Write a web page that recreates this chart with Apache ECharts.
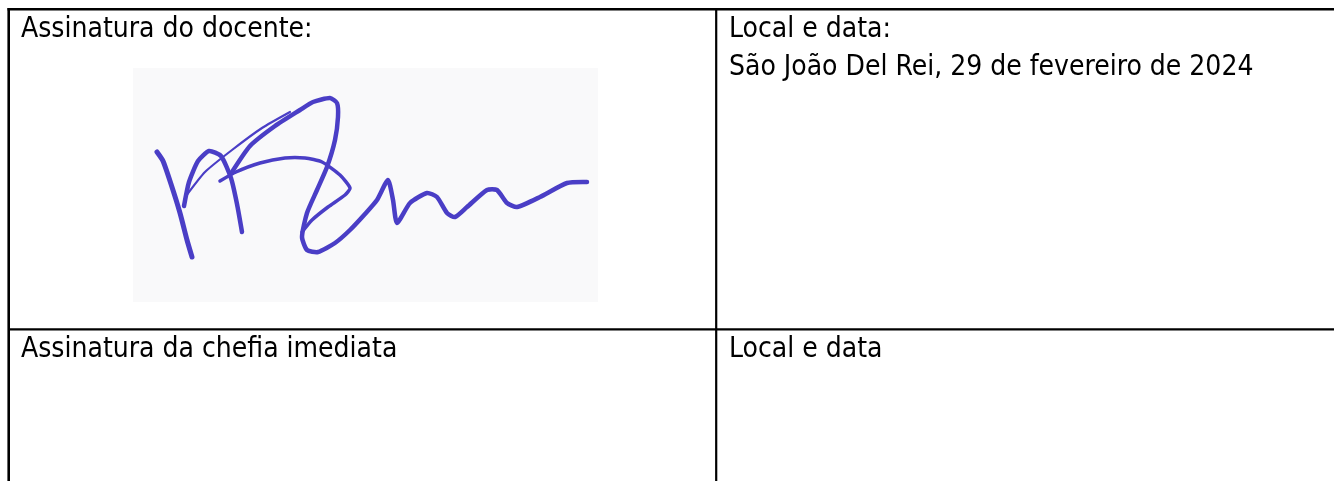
<!DOCTYPE html>
<html>
<head>
<meta charset="utf-8">
<script src="https://cdn.jsdelivr.net/npm/echarts@6/dist/echarts.min.js"></script>
<style>
  html, body { margin: 0; padding: 0; background: #fff; }
  #main { width: 1334px; height: 481px; }
</style>
</head>
<body>
<div id="main"></div>
<script>
// cell texts, one list per column
var leftCells = ['Assinatura do docente:', 'Assinatura da chefia imediata'];
var rightCells = ['Local e data:', 'Local e data'];
var placeDate = 'São João Del Rei, 29 de fevereiro de 2024';

// signature strokes (pen path of the scanned signature)
var sigLeftLeg = [[157,152],[163,161],[171,184],[180,213],[187,240],[192,257]];
var sigArch = [[184,206],[189,182],[198,161],[209,151],[221,156],[231,178],[237,204],[242,232]];
var sigThin = [[186,196],[205,172],[232,150],[262,128],[290,112]];
var sigBar = [[220,181],[236,172],[260,163],[285,158],[305,158],[322,162],[340,175],[350,188],[345,195],[328,207],[312,220],[302,232]];
var sigMain = [[232,172],[250,146],[275,126],[300,110],[313,102],[330,98],[337,103],[338,117],[335,140],[327,167],
  [317,190],[307,213],[302,237],[307,250],[318,252],[335,243],[350,230],[365,214],[377,200],[388,180],[393,200],
  [397,223],[410,203],[427,193],[437,197],[447,213],[455,217],[467,207],[487,190],[497,190],[507,203],[517,207],
  [540,197],[567,183],[587,182]];

var chart = echarts.init(document.getElementById('main'));
var font = '"DejaVu Sans Condensed", "DejaVu Sans", sans-serif';
var ink = '#4a3ec6';

function txt(s, x, y) {
  return {
    type: 'text', x: x, y: y,
    style: { text: s, fill: '#000', fontSize: 28, fontFamily: font, verticalAlign: 'middle' }
  };
}
function stroke(pts, w) {
  return {
    type: 'polyline',
    shape: { points: pts, smooth: 0.2 },
    style: { stroke: ink, lineWidth: w, lineCap: 'round', lineJoin: 'round', fill: null }
  };
}
function line(x1, y1, x2, y2, w) {
  return {
    type: 'line',
    shape: { x1: x1, y1: y1, x2: x2, y2: y2 },
    style: { stroke: '#000', lineWidth: w }
  };
}

var option = {
  backgroundColor: '#fff',
  animation: false,
  graphic: [
    // scanned paper behind the signature
    { type: 'rect', shape: { x: 133, y: 68, width: 465, height: 234 },
      style: { fill: '#f9f9fa' } },
    stroke(sigThin, 2.2),
    stroke(sigLeftLeg, 5),
    stroke(sigArch, 4.5),
    stroke(sigBar, 3.5),
    stroke(sigMain, 4.5),
    // table rules
    line(7.5, 9.3, 1334, 9.3, 2.6),
    line(8.7, 8, 8.7, 481, 2.6),
    line(716.2, 9, 716.2, 481, 2.2),
    line(8, 329.3, 1334, 329.3, 2.2),
    // texts
    txt(leftCells[0], 21, 30),
    txt(rightCells[0], 729, 30),
    txt(placeDate, 729, 68),
    txt(leftCells[1], 21, 350),
    txt(rightCells[1], 729, 350)
  ]
};
chart.setOption(option);
</script>
</body>
</html>
